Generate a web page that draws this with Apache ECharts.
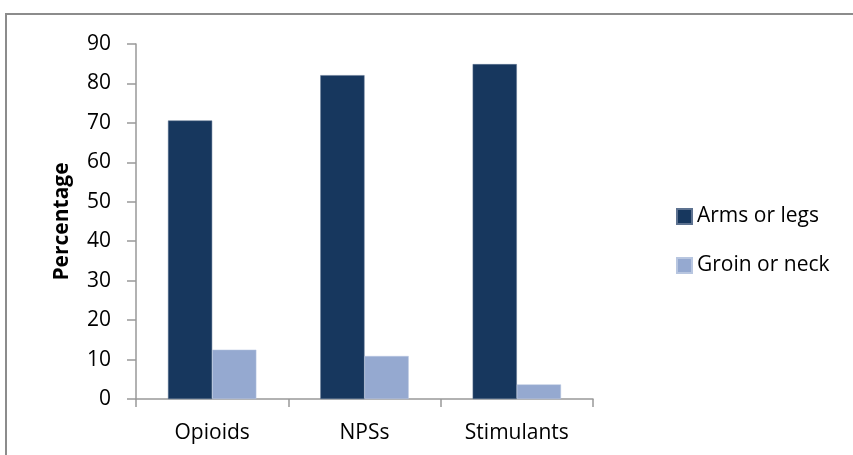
<!DOCTYPE html>
<html>
<head>
<meta charset="utf-8">
<script src="https://cdn.jsdelivr.net/npm/echarts@6/dist/echarts.min.js"></script>
<style>
html, body { margin: 0; padding: 0; background: #fff; }
#chart { width: 853px; height: 455px; }
</style>
</head>
<body>
<div id="chart"></div>
<script>
// 数据
var categories = ['Opioids', 'NPSs', 'Stimulants'];
var armsOrLegs = [70.6, 82.1, 84.9];
var groinOrNeck = [12.5, 10.9, 3.7];
var yTicks = [0, 10, 20, 30, 40, 50, 60, 70, 80, 90];

var mainChart = echarts.init(document.getElementById('chart'));

var font = 'Open Sans';

var option = {
    animation: false,
    textStyle: { fontFamily: font },
    graphic: [{
        type: 'rect',
        shape: { x: 6, y: 14, width: 900, height: 500 },
        style: { fill: 'none', stroke: '#8c8c8c', lineWidth: 2 },
        silent: true
    }],
    legend: {
        orient: 'vertical',
        left: 671,
        top: 201,
        itemWidth: 15,
        itemHeight: 15,
        itemGap: 28,
        icon: 'rect',
        textStyle: { fontSize: 21, color: '#000', fontFamily: font },
        data: ['Arms or legs', 'Groin or neck']
    },
    grid: {
        left: 136,
        right: 260,
        top: 44,
        bottom: 56
    },
    xAxis: {
        type: 'category',
        data: categories,
        axisLine: { lineStyle: { color: '#999', width: 1.5 } },
        axisTick: { show: true, length: 8, lineStyle: { color: '#999', width: 1.5 } },
        axisLabel: { fontSize: 21, color: '#000', margin: 24, fontFamily: font }
    },
    yAxis: {
        type: 'value',
        min: 0,
        max: 90,
        interval: 10,
        name: 'Percentage',
        nameLocation: 'middle',
        nameGap: 63,
        nameTextStyle: { fontSize: 21, fontWeight: 'bold', color: '#000', fontFamily: font },
        axisLine: { show: true, lineStyle: { color: '#999', width: 1.5 } },
        axisTick: { show: true, inside: false, length: 9, lineStyle: { color: '#999', width: 1.5 } },
        axisLabel: {
            fontSize: 21, color: '#000', margin: 25, fontFamily: font,
            formatter: function (v) { return yTicks.indexOf(v) >= 0 ? String(v) : ''; }
        },
        splitLine: { show: false }
    },
    series: [{
        name: 'Arms or legs',
        type: 'bar',
        barGap: '0%',
        barCategoryGap: '42%',
        itemStyle: { color: '#17375E', borderColor: '#5d7290', borderWidth: 0.5 },
        data: armsOrLegs
    }, {
        name: 'Groin or neck',
        type: 'bar',
        itemStyle: { color: '#95A9D0', borderColor: '#b8c6e0', borderWidth: 0.5 },
        data: groinOrNeck
    }]
};

mainChart.setOption(option);
</script>
</body>
</html>
